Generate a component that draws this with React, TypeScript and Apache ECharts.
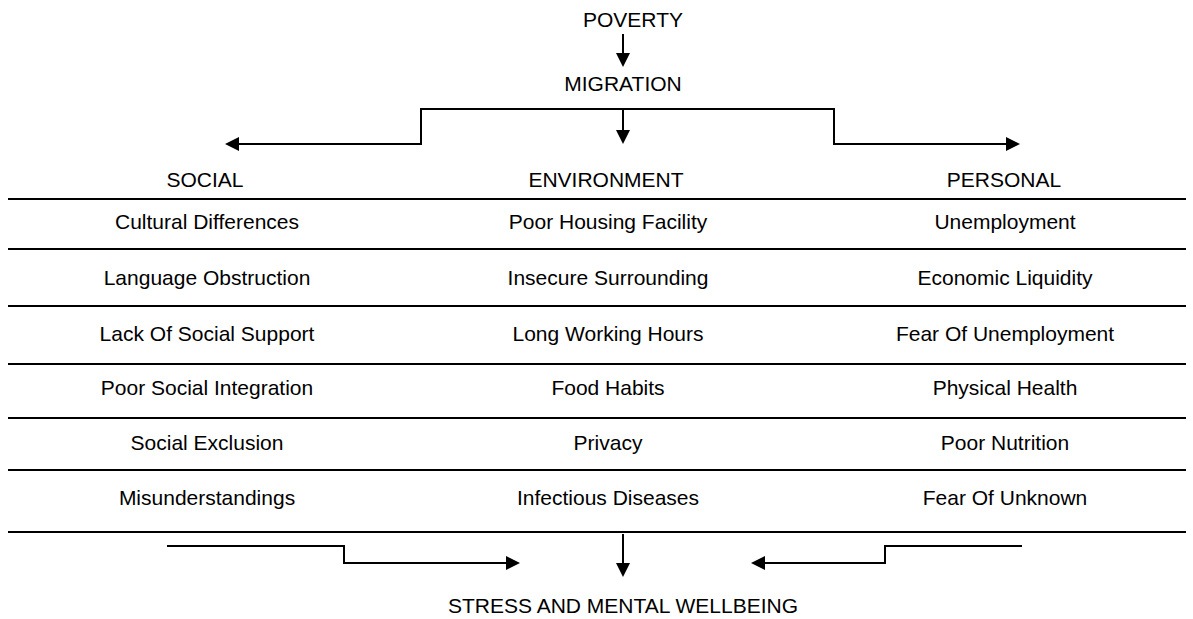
import React, { useEffect, useRef } from "react";
import * as echarts from "echarts";

const topLabels = ["POVERTY", "MIGRATION"];
const headers = ["SOCIAL", "ENVIRONMENT", "PERSONAL"];
const social = [
  "Cultural Differences",
  "Language Obstruction",
  "Lack Of Social Support",
  "Poor Social Integration",
  "Social Exclusion",
  "Misunderstandings",
];
const environment = [
  "Poor Housing Facility",
  "Insecure Surrounding",
  "Long Working Hours",
  "Food Habits",
  "Privacy",
  "Infectious Diseases",
];
const personal = [
  "Unemployment",
  "Economic Liquidity",
  "Fear Of Unemployment",
  "Physical Health",
  "Poor Nutrition",
  "Fear Of Unknown",
];
const outcome = "STRESS AND MENTAL WELLBEING";

const FONT = "'Liberation Sans', Arial, sans-serif";
const LW = 2;

function txt(text: string, x: number, y: number) {
  return {
    type: "text",
    x,
    y,
    style: {
      text,
      fill: "#000",
      font: `21px ${FONT}`,
      align: "center",
      verticalAlign: "middle",
    },
  };
}
function line(x1: number, y1: number, x2: number, y2: number) {
  return {
    type: "line",
    shape: { x1, y1, x2, y2 },
    style: { stroke: "#000", lineWidth: LW },
  };
}
function poly(points: number[][]) {
  return {
    type: "polyline",
    shape: { points },
    style: { stroke: "#000", lineWidth: LW, fill: null },
  };
}
// arrowhead: tip at (x,y), dir: 'down' | 'left' | 'right'
function head(x: number, y: number, dir: string) {
  const L = 14, W = 7;
  let pts: number[][];
  if (dir === "down") pts = [[x, y], [x - W, y - L], [x + W, y - L]];
  else if (dir === "left") pts = [[x, y], [x + L, y - W], [x + L, y + W]];
  else pts = [[x, y], [x - L, y - W], [x - L, y + W]];
  return { type: "polygon", shape: { points: pts }, style: { fill: "#000" } };
}

export default function App() {
  const ref = useRef<HTMLDivElement>(null);
  useEffect(() => {
    document.body.style.margin = "0";
    const chart = echarts.init(ref.current!, null, { renderer: "svg" });
    const els: any[] = [];
    const cx = 623;
    // top
    els.push(txt(topLabels[0], 633, 19));
    els.push(line(cx, 34, cx, 60), head(cx, 67, "down"));
    els.push(txt(topLabels[1], cx, 83));
    // bracket
    els.push(poly([[232, 144], [421, 144], [421, 109], [834, 109], [834, 144], [1012, 144]]));
    els.push(head(225, 144, "left"), head(1020, 144, "right"));
    els.push(line(cx, 109, cx, 136), head(cx, 144, "down"));
    // headers
    const colX = [207, 608, 1005];
    const headX = [205, 606, 1004];
    headers.forEach((h, i) => els.push(txt(h, headX[i], 179)));
    // row lines
    const lineY = [199, 249, 306, 364, 418, 470, 532];
    lineY.forEach((y) => els.push(line(8, y, 1186, y)));
    const textY = [221, 277, 333, 387, 442, 497];
    [social, environment, personal].forEach((col, ci) =>
      col.forEach((t, ri) => els.push(txt(t, colX[ci], textY[ri])))
    );
    // bottom
    els.push(poly([[167, 546], [344, 546], [344, 563], [510, 563]]), head(520, 563, "right"));
    els.push(poly([[1022, 546], [885, 546], [885, 563], [760, 563]]), head(751, 563, "left"));
    els.push(line(cx, 534, cx, 570), head(cx, 577, "down"));
    els.push(txt(outcome, cx, 605));

    chart.setOption({
      animation: false,
      backgroundColor: "#fff",
      graphic: { elements: els },
    });
    return () => chart.dispose();
  }, []);
  return <div ref={ref} style={{ width: 1193, height: 619 }} />;
}
